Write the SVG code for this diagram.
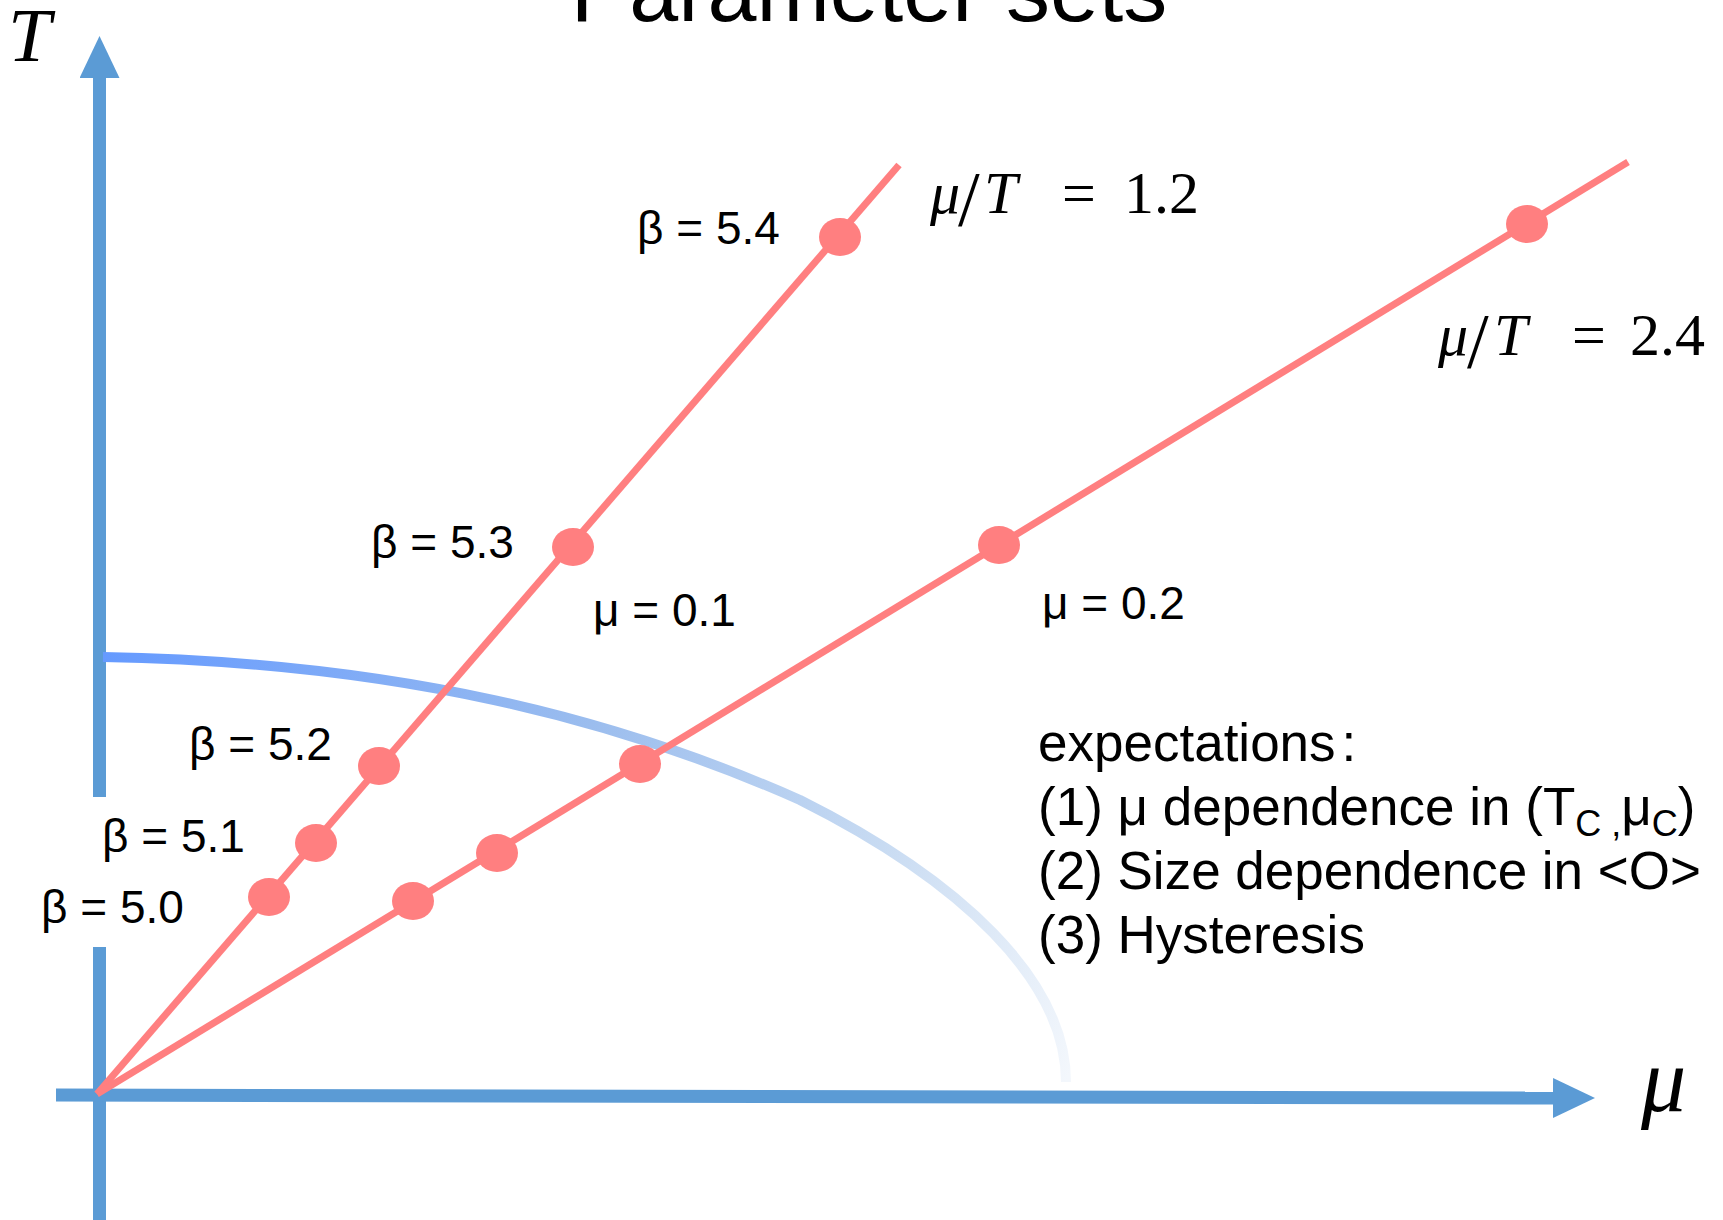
<svg xmlns="http://www.w3.org/2000/svg" width="1723" height="1220" viewBox="0 0 1723 1220">
<style>
.axis{stroke:#5B9BD5;stroke-width:13;fill:none}
.ray{stroke:#FF7F80;stroke-width:7;fill:none}
.dot{fill:#FF7F80}
.lbl{font-family:"Liberation Sans",Arial,sans-serif;font-size:46px;fill:#000}
.exp{font-family:"Liberation Sans",Arial,sans-serif;font-size:53px;fill:#000}
.math{font-family:"Liberation Serif","Times New Roman",serif;font-size:60px;fill:#000}
.it{font-style:italic}
.slash{font-size:78px}
</style>
<defs>
<marker id="arrow" markerUnits="userSpaceOnUse" markerWidth="42" markerHeight="40" viewBox="0 0 42 40" refX="1" refY="20" orient="auto">
<path d="M0,0 L42,20 L0,40 z" fill="#5B9BD5"/>
</marker>
<linearGradient id="curveGrad" gradientUnits="userSpaceOnUse" x1="103" y1="657" x2="1066" y2="1082">
<stop offset="0" stop-color="#659AFF"/>
<stop offset="0.45" stop-color="#9BBDEE"/>
<stop offset="0.75" stop-color="#C8DBF2"/>
<stop offset="1" stop-color="#F3F7FC"/>
</linearGradient>
</defs>
<text x="869" y="21" text-anchor="middle" font-family="Liberation Sans, Arial, sans-serif" font-size="88">Parameter sets</text>
<g id="axes">
<line class="axis" x1="99.5" y1="797" x2="99.5" y2="77" marker-end="url(#arrow)"/>
<line class="axis" x1="99.5" y1="947" x2="99.5" y2="1220"/>
<line class="axis" x1="56" y1="1095" x2="1554" y2="1098" marker-end="url(#arrow)"/>
</g>
<g id="axis-labels">
<text class="math it" x="8" y="61" style="font-size:77px">T</text>
<text class="math it" x="1641" y="1111" style="font-size:90px">μ</text>
</g>
<g id="transition-curve">
<path d="M103,657 C400,662 620,720 800,800 C960,880 1066,980 1066,1082" stroke="url(#curveGrad)" stroke-width="10" fill="none"/>
</g>
<g id="connectors">
<line class="ray" x1="97" y1="1094" x2="899" y2="165"/>
<line class="ray" x1="97" y1="1094" x2="1628" y2="162"/>
</g>
<g id="line-mu-T-1.2">
<ellipse id="p12-b50" class="dot" cx="269" cy="897" rx="21" ry="19"/>
<ellipse id="p12-b51" class="dot" cx="316" cy="843" rx="21" ry="19"/>
<ellipse id="p12-b52" class="dot" cx="379" cy="766" rx="21" ry="19"/>
<ellipse id="p12-b53" class="dot" cx="573" cy="547" rx="21" ry="19"/>
<ellipse id="p12-b54" class="dot" cx="840" cy="237" rx="21" ry="19"/>
</g>
<g id="line-mu-T-2.4">
<ellipse id="p24-b50" class="dot" cx="413" cy="901" rx="21" ry="19"/>
<ellipse id="p24-b51" class="dot" cx="497" cy="853" rx="21" ry="19"/>
<ellipse id="p24-b52" class="dot" cx="640" cy="764" rx="21" ry="19"/>
<ellipse id="p24-b53" class="dot" cx="999" cy="545" rx="21" ry="19"/>
<ellipse id="p24-b54" class="dot" cx="1527" cy="224" rx="21" ry="19"/>
</g>
<g id="beta-labels">
<text class="lbl" x="637" y="244">β = 5.4</text>
<text class="lbl" x="371" y="558">β = 5.3</text>
<text class="lbl" x="189" y="760">β = 5.2</text>
<text class="lbl" x="102" y="852">β = 5.1</text>
<text class="lbl" x="41" y="923">β = 5.0</text>
</g>
<g id="mu-labels">
<text class="lbl" x="593" y="626">μ = 0.1</text>
<text class="lbl" x="1042" y="619">μ = 0.2</text>
</g>
<g id="ratio-labels">
<text class="math" y="213"><tspan class="it" x="930">μ</tspan><tspan class="slash" x="958" dy="12">/</tspan><tspan class="it" x="984" dy="-12">T</tspan><tspan x="1062">=</tspan><tspan x="1124">1.2</tspan></text>
<text class="math" y="355"><tspan class="it" x="1438">μ</tspan><tspan class="slash" x="1467" dy="12">/</tspan><tspan class="it" x="1494" dy="-12">T</tspan><tspan x="1572">=</tspan><tspan x="1630">2.4</tspan></text>
</g>
<g id="expectations">
<text class="exp" x="1038" y="761">expectations<tspan dx="6">:</tspan></text>
<text class="exp" x="1038" y="825">(1) μ dependence in (T<tspan font-size="36" dy="11">C ,</tspan><tspan dy="-11">μ</tspan><tspan font-size="36" dy="11">C</tspan><tspan dy="-11">)</tspan></text>
<text class="exp" x="1038" y="889">(2) Size dependence in &lt;O&gt;</text>
<text class="exp" x="1038" y="953">(3) Hysteresis</text>
</g>
</svg>
